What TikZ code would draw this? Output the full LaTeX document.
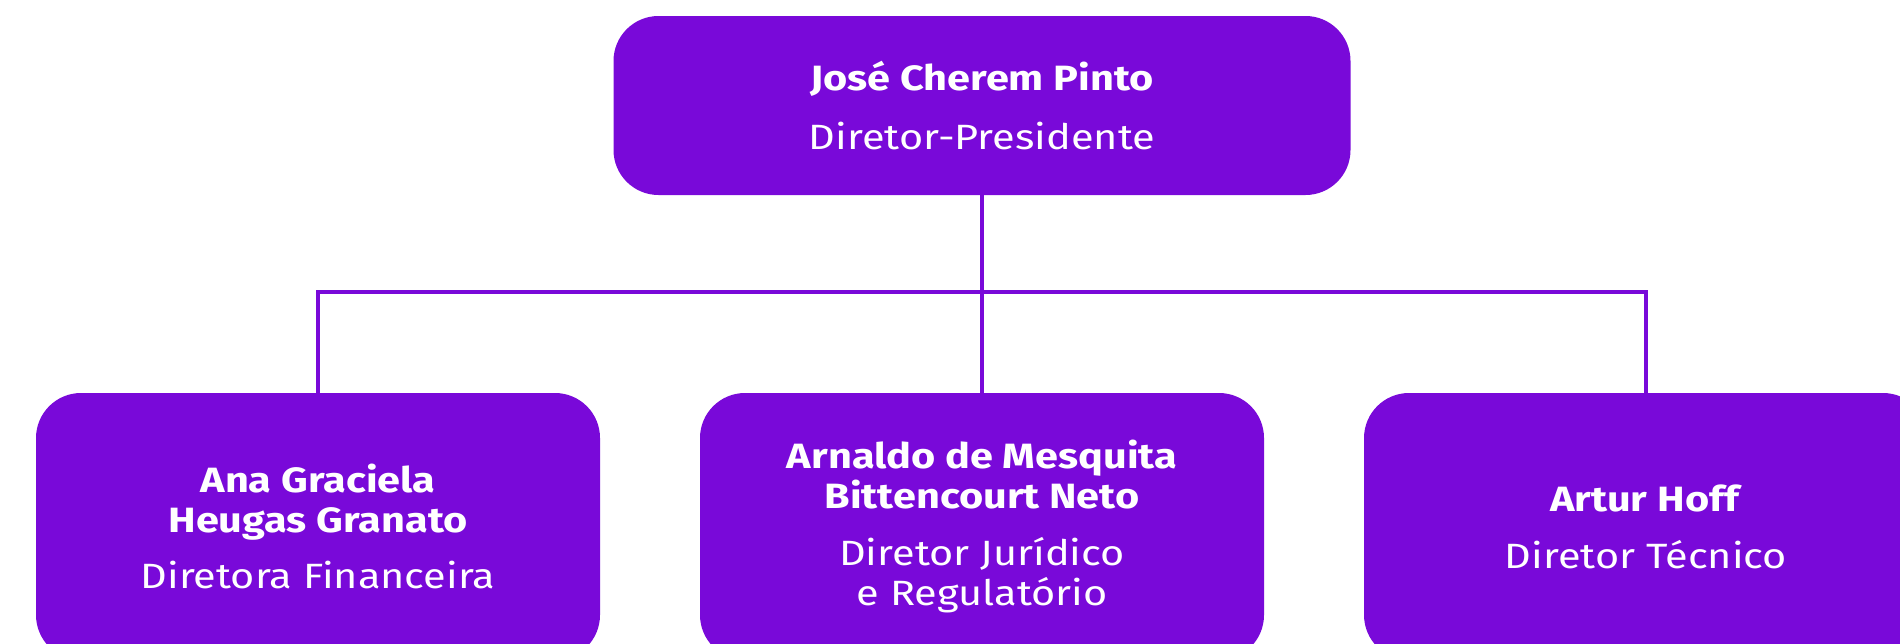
\documentclass[tikz,border=0pt]{standalone}
\usepackage{fontspec}
\setmainfont[FakeStretch=1.18]{Fira Sans}
\usetikzlibrary{positioning}
\definecolor{roxo}{RGB}{121,9,217}
\tikzset{
  cargo/.style={rounded corners=0.9cm, fill=roxo, text=white, align=center,
    minimum width=11.28cm, minimum height=5.34cm, inner sep=0pt,
    font=\fontsize{20}{22.7}\selectfont},
  ligacao/.style={draw=roxo, line width=1.8pt}
}

\begin{document}
\begin{tikzpicture}
    \pgfmathsetmacro{\largura}{38}
    \pgfmathsetmacro{\altura}{12.86}
    \pgfmathsetmacro{\passo}{13.28}
    \pgfmathsetmacro{\meio}{19.64}

    \useasboundingbox (0,0) rectangle (\largura,\altura);
    \clip (0,0) rectangle (\largura,\altura);

    % topo
    \node[cargo, minimum width=14.74cm, minimum height=3.58cm] (presidente) at (\meio,10.75)
      {\textbf{José Cherem Pinto}\\[10.5pt]Diretor-Presidente};

    % diretores
    \node[cargo] (financeira) at (\meio-\passo,2.33)
      {\textbf{Ana Graciela}\\\textbf{Heugas Granato}\\[9.7pt]Diretora Financeira};
    \node[cargo] (juridico) at (\meio,2.33)
      {\textbf{Arnaldo de Mesquita}\\\textbf{Bittencourt Neto}\\[9.7pt]Diretor Jurídico\\e Regulatório};
    \node[cargo] (tecnico) at (\meio+\passo,2.33)
      {\textbf{Artur Hoff}\\[9.7pt]Diretor Técnico};

    \coordinate (barra) at (\meio,7.02);
    \draw[ligacao] (presidente.south) -- (juridico.north);
    \draw[ligacao] (financeira.north) |- (barra) -| (tecnico.north);
  \end{tikzpicture}
\end{document}
